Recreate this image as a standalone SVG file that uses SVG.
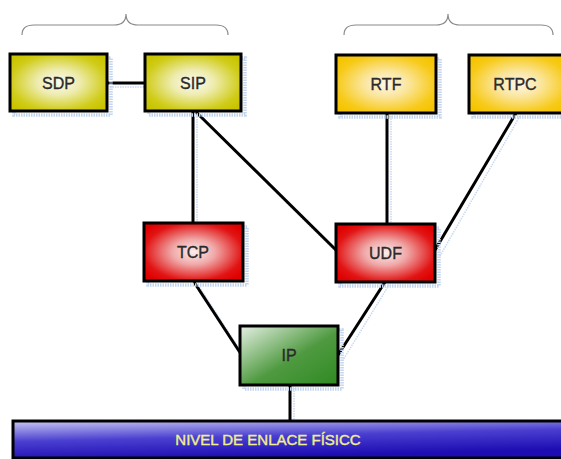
<svg xmlns="http://www.w3.org/2000/svg" width="561" height="459" viewBox="0 0 561 459">
  <defs>
    <radialGradient id="gYellow" cx="50%" cy="50%" r="62%">
      <stop offset="0" stop-color="#fbfbf0"/>
      <stop offset="0.35" stop-color="#eeecb0"/>
      <stop offset="0.8" stop-color="#d0cc18"/>
      <stop offset="1" stop-color="#c9c400"/>
    </radialGradient>
    <radialGradient id="gGold" cx="50%" cy="50%" r="62%">
      <stop offset="0" stop-color="#fdf8e8"/>
      <stop offset="0.35" stop-color="#fbe6a0"/>
      <stop offset="0.8" stop-color="#f7ca18"/>
      <stop offset="1" stop-color="#f5c400"/>
    </radialGradient>
    <radialGradient id="gRed" cx="50%" cy="50%" r="62%">
      <stop offset="0" stop-color="#fbeeee"/>
      <stop offset="0.35" stop-color="#f0a8a8"/>
      <stop offset="0.8" stop-color="#e21414"/>
      <stop offset="1" stop-color="#df0000"/>
    </radialGradient>
    <linearGradient id="gGreen" x1="0" y1="0" x2="1" y2="1">
      <stop offset="0" stop-color="#e6f0e4"/>
      <stop offset="0.55" stop-color="#4f9a40"/>
      <stop offset="1" stop-color="#2f8a22"/>
    </linearGradient>
    <linearGradient id="gBlue" x1="0" y1="0" x2="0.35" y2="1">
      <stop offset="0" stop-color="#c8c8f2"/>
      <stop offset="0.5" stop-color="#4a3fd0"/>
      <stop offset="1" stop-color="#1c0cb2"/>
    </linearGradient>
  </defs>
  <style>
    .box { stroke: #000; stroke-width: 3; }
    .shadow { fill: none; stroke: #c4d5f0; stroke-width: 3.5; stroke-dasharray: 1.5 1; }
    .lbl { font-family: "Liberation Sans", Arial, sans-serif; font-size: 16px; fill: #2a2a2a; stroke: #2a2a2a; stroke-width: 0.35; text-anchor: middle; }
    .wire { stroke: #000; stroke-width: 3; fill: none; }
    .wireShadow { stroke: #c8d8f2; stroke-width: 1.5; stroke-dasharray: 1.5 1; fill: none; }
    .brace { fill: none; stroke: #8a8a8a; stroke-width: 1.2; }
  </style>
  <rect width="561" height="459" fill="#fff"/>

  <!-- curly braces over the two groups -->
  <g id="braces">
    <path class="brace" d="M22,35 Q22,25 34,25 L114,25 Q126,25 126,14 Q126,25 138,25 L216,25 Q228,25 228,35"/>
    <path class="brace" d="M344,35 Q344,25 356,25 L436,25 Q448,25 448,14 Q448,25 460,25 L541,25 Q553,25 553,35"/>
  </g>

  <!-- connectors -->
  <g id="connectors">
    <g>
      <line class="wireShadow" x1="110" y1="87" x2="150" y2="87"/>
      <line class="wireShadow" x1="197" y1="114" x2="197" y2="226"/>
      <line class="wireShadow" x1="200" y1="116" x2="340" y2="256"/>
      <line class="wireShadow" x1="391" y1="116" x2="391" y2="227"/>
      <line class="wireShadow" x1="520" y1="116" x2="440" y2="256"/>
      <line class="wireShadow" x1="198" y1="285" x2="245" y2="358"/>
      <line class="wireShadow" x1="389" y1="285" x2="343" y2="360"/>
      <line class="wireShadow" x1="294" y1="388" x2="294" y2="421"/>
    </g>
    <line class="wire" x1="107" y1="83" x2="145" y2="83"/>
    <line class="wire" x1="193" y1="111" x2="193" y2="223"/>
    <line class="wire" x1="196" y1="112" x2="337" y2="251"/>
    <line class="wire" x1="387" y1="113" x2="387" y2="224"/>
    <line class="wire" x1="516" y1="113" x2="435" y2="250"/>
    <line class="wire" x1="194" y1="282" x2="241" y2="354"/>
    <line class="wire" x1="385" y1="282" x2="338" y2="355"/>
    <line class="wire" x1="290" y1="385" x2="290" y2="421"/>
  </g>

  <g id="sdp">
    <rect class="shadow" x="14" y="58" width="97" height="57"/>
    <rect class="box" x="10" y="54" width="97" height="57" fill="url(#gYellow)"/>
    <text class="lbl" x="58.5" y="88.5">SDP</text>
  </g>
  <g id="sip">
    <rect class="shadow" x="149" y="58" width="96" height="57"/>
    <rect class="box" x="145" y="54" width="96" height="57" fill="url(#gYellow)"/>
    <text class="lbl" x="193" y="88.5">SIP</text>
  </g>
  <g id="rtf">
    <rect class="shadow" x="340" y="59" width="100" height="58"/>
    <rect class="box" x="336" y="55" width="100" height="58" fill="url(#gGold)"/>
    <text class="lbl" x="386" y="90">RTF</text>
  </g>
  <g id="rtpc">
    <rect class="shadow" x="473" y="59" width="100" height="58"/>
    <rect class="box" x="469" y="55" width="100" height="58" fill="url(#gGold)"/>
    <text class="lbl" x="515" y="90">RTPC</text>
  </g>
  <g id="tcp">
    <rect class="shadow" x="148" y="227" width="99" height="58"/>
    <rect class="box" x="144" y="223" width="99" height="58" fill="url(#gRed)"/>
    <text class="lbl" x="193" y="258">TCP</text>
  </g>
  <g id="udp">
    <rect class="shadow" x="340" y="228" width="99" height="58"/>
    <rect class="box" x="336" y="224" width="99" height="58" fill="url(#gRed)"/>
    <text class="lbl" x="385.5" y="259">UDF</text>
  </g>
  <g id="ip">
    <rect class="shadow" x="244" y="330" width="98" height="59"/>
    <rect class="box" x="240" y="326" width="98" height="59" fill="url(#gGreen)"/>
    <text class="lbl" x="289" y="361">IP</text>
  </g>
  <g id="enlace">
    <rect class="box" x="13" y="421" width="560" height="37" fill="url(#gBlue)"/>
    <text x="268" y="445" font-family="'Liberation Sans', Arial, sans-serif" font-size="15" fill="#f0f08c" stroke="#f0f08c" stroke-width="0.4" text-anchor="middle">NIVEL DE ENLACE FÍSICC</text>
  </g>
</svg>
